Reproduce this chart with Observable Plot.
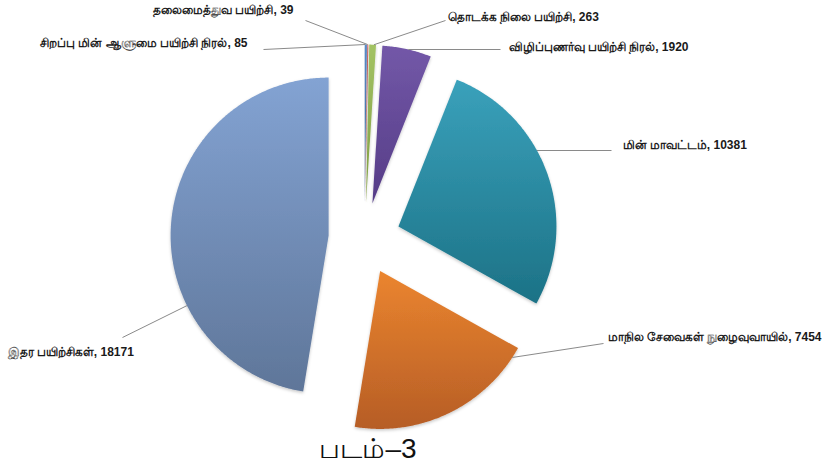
<!DOCTYPE html>
<html>
<head>
<meta charset="utf-8">
<script src="https://cdn.jsdelivr.net/npm/d3@7"></script>
<script src="https://cdn.jsdelivr.net/npm/@observablehq/plot@0.6"></script>
<style>
  body { margin: 0; background: #fff; font-family: "Liberation Sans", Arial, sans-serif; }
  #wrap { width: 831px; height: 465px; position: relative; overflow: hidden; }
  #chart { position: absolute; left: 0; top: 0; }
  #cap { position: absolute; left: 268px; width: 200px; top: 435px; height: 28px; line-height: 28px;
         text-align: center; font-size: 28px; color: #111; white-space: nowrap; }
</style>
</head>
<body>
<div id="wrap"><div id="chart"></div><div id="cap">படம்–3</div></div>
<script>
// ---- data (in the chart's slice order, clockwise from 12 o'clock) ----
const categories = [
  "சிறப்பு மின் ஆளுமை பயிற்சி நிரல்",
  "தலைமைத்துவ பயிற்சி",
  "தொடக்க நிலை பயிற்சி",
  "விழிப்புணர்வு பயிற்சி நிரல்",
  "மின் மாவட்டம்",
  "மாநில சேவைகள் நுழைவுவாயில்",
  "இதர பயிற்சிகள்"
];
const values = [85, 39, 263, 1920, 10381, 7454, 18171];

// ---- styles ----
const fillTop    = ["#5b8ccc", "#d0605a", "#a3c364", "#7358a8", "#3aa1bb", "#eb852f", "#83a3d3"];
const fillBottom = ["#41699a", "#a54440", "#7f9c42", "#553c86", "#1c7286", "#b65d26", "#5f7699"];

// ---- layout (pixels) ----
const W = 831, H = 432;
const CX = 364, CY = 238, R = 158, EXPLODE = 36;
// label text anchor, leader-line end, and whether the leader is drawn level
const labelLayout = [
  {tx: 247, ty: 43,  anchor: "end",   ex: 263, ey: 49,  level: true},
  {tx: 293, ty: 10,  anchor: "end",   ex: 305, ey: 20,  level: false},
  {tx: 447, ty: 17,  anchor: "start", ex: 445, ey: 20,  level: false},
  {tx: 508, ty: 47,  anchor: "start", ex: 500, ey: 49,  level: true},
  {tx: 622, ty: 145, anchor: "start", ex: 611, ey: 150, level: true},
  {tx: 607, ty: 337, anchor: "start", ex: 603, ey: 343, level: true},
  {tx: 7,   ty: 352, anchor: "start", ex: 122, ey: 337, level: false}
];

// data units: radius = 1, centre = (0,0), y up
const ux = px => (px - CX) / R;
const uy = py => (CY - py) / R;
const e = EXPLODE / R;

const arcs = d3.pie().sort(null).startAngle(0).endAngle(2 * Math.PI)(values);

const polys = [];
const slices = arcs.map((a, i) => {
  const mid = (a.startAngle + a.endAngle) / 2;
  const ax = e * Math.sin(mid), ay = e * Math.cos(mid);
  const pts = [{x: ax, y: ay}];
  const n = Math.max(2, Math.ceil((a.endAngle - a.startAngle) / (Math.PI / 360)));
  for (let j = 0; j <= n; j++) {
    const t = a.startAngle + (a.endAngle - a.startAngle) * j / n;
    pts.push({x: ax + Math.sin(t), y: ay + Math.cos(t)});
  }
  polys.push(pts);
  return {i, a, ax, ay};
});

const TAU = 2 * Math.PI;
const norm = t => ((t % TAU) + TAU) % TAU;
const angDist = (p, q) => { const d = Math.abs(norm(p) - norm(q)); return Math.min(d, TAU - d); };

const leaders = slices.map(s => {
  const L = labelLayout[s.i];
  const exu = ux(L.ex), eyu = uy(L.ey);
  const st = s.a.startAngle, en = s.a.endAngle, span = en - st;
  const m = Math.min(4 * Math.PI / 180, span * 0.3);
  let th = null;
  if (L.level) {
    const c = eyu - s.ay;
    if (Math.abs(c) <= 1) {
      let t = Math.acos(c);                     // right-hand side
      if (exu < s.ax) t = TAU - t;              // left-hand side
      if (t >= st + m && t <= en - m) th = t;
    }
  }
  if (th === null) {
    th = norm(Math.atan2(exu - s.ax, eyu - s.ay));
    if (!(th >= st + m && th <= en - m)) th = angDist(th, st) < angDist(th, en) ? st + m : en - m;
  }
  return {x1: s.ax + Math.sin(th), y1: s.ay + Math.cos(th), x2: exu, y2: eyu};
});

const labels = categories.map((c, i) => ({
  text: `${c}, ${values[i]}`,
  x: ux(labelLayout[i].tx), y: uy(labelLayout[i].ty), anchor: labelLayout[i].anchor
}));

const sliceMarks = polys.map((pts, i) =>
  Plot.line(pts, {x: "x", y: "y", curve: "linear-closed", fill: `url(#grad${i})`, stroke: "none",
                  className: "slice"}));

const textStyle = {fontSize: 12, fontWeight: 600, fill: "#1a1a1a", fontFamily: "Liberation Sans, Arial, sans-serif"};

const plot = Plot.plot({
  width: W, height: H, margin: 0,
  x: {domain: [ux(0), ux(W)], axis: null},
  y: {domain: [uy(H), uy(0)], axis: null},
  style: {background: "transparent", overflow: "visible"},
  marks: [
    ...sliceMarks,
    Plot.link(leaders, {x1: "x1", y1: "y1", x2: "x2", y2: "y2", stroke: "#8a8a8a", strokeWidth: 1}),
    Plot.text(labels.filter(d => d.anchor === "start"), {x: "x", y: "y", text: "text", textAnchor: "start", ...textStyle}),
    Plot.text(labels.filter(d => d.anchor === "end"), {x: "x", y: "y", text: "text", textAnchor: "end", ...textStyle})
  ]
});

// gradient + shadow definitions
const defs = d3.select(plot).insert("defs", ":first-child");
fillTop.forEach((c, i) => {
  const g = defs.append("linearGradient").attr("id", `grad${i}`)
    .attr("x1", 0).attr("y1", 0).attr("x2", 0).attr("y2", 1);
  g.append("stop").attr("offset", "0%").attr("stop-color", c);
  g.append("stop").attr("offset", "100%").attr("stop-color", fillBottom[i]);
});
const f = defs.append("filter").attr("id", "shadow").attr("x", "-10%").attr("y", "-10%")
  .attr("width", "120%").attr("height", "120%");
f.append("feDropShadow").attr("dx", 0).attr("dy", 1.5).attr("stdDeviation", 1.5)
  .attr("flood-color", "#000").attr("flood-opacity", 0.22);
d3.select(plot).selectAll(".slice path").attr("filter", "url(#shadow)");

document.getElementById("chart").appendChild(plot);
</script>
</body>
</html>
